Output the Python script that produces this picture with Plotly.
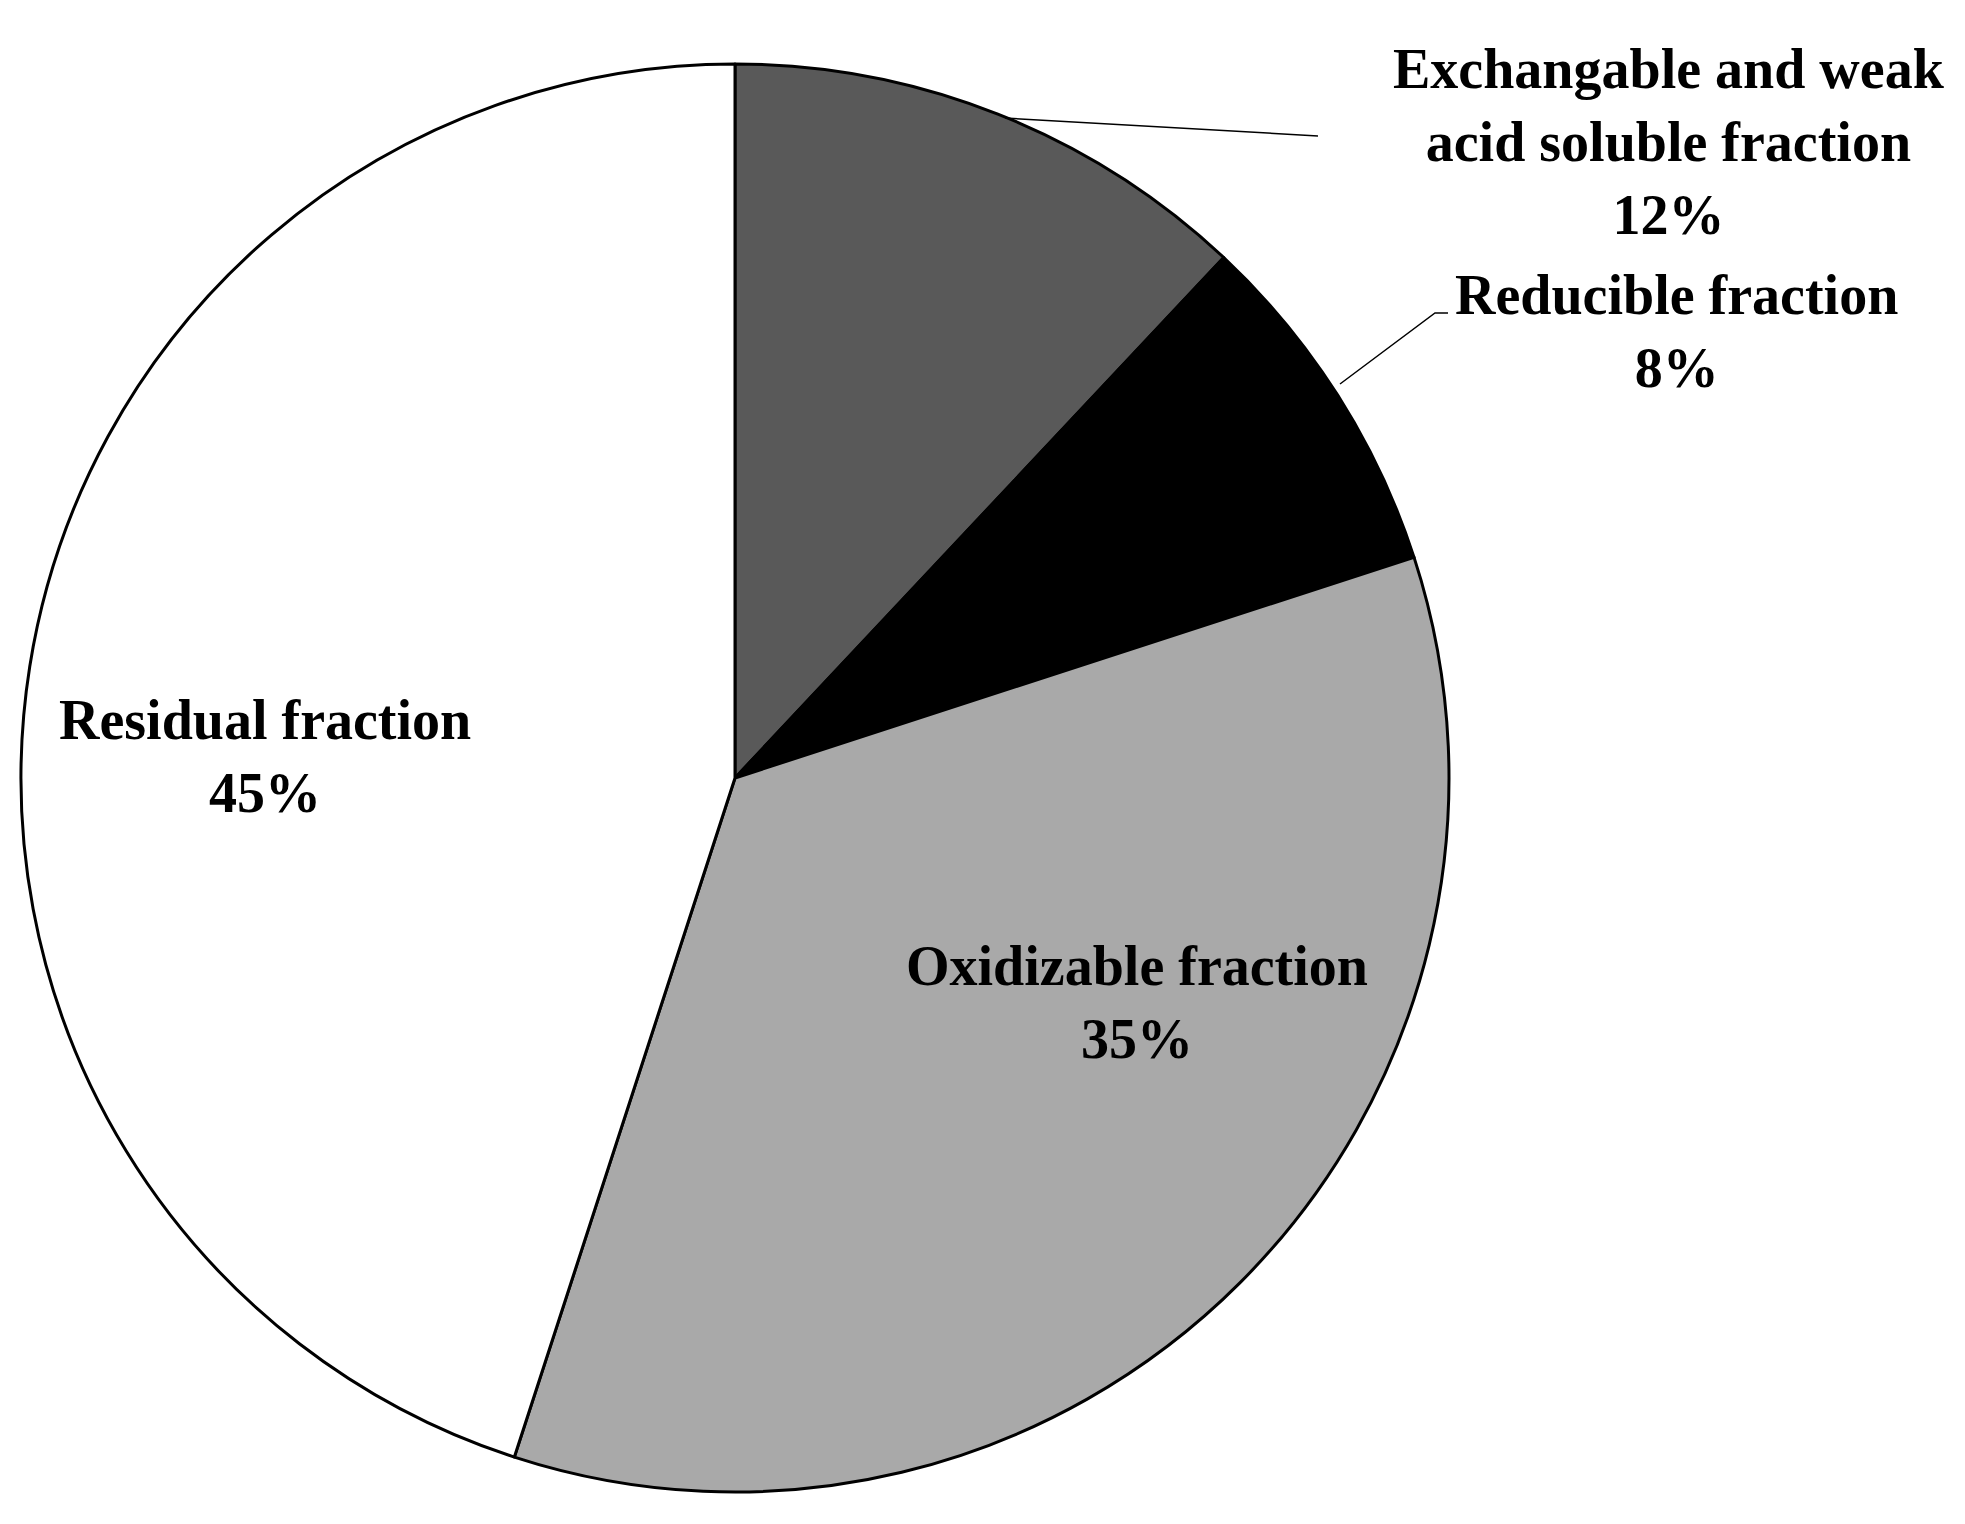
import plotly.graph_objects as go

labels = ["Exchangable and weak<br>acid soluble fraction", "Reducible fraction", "Oxidizable fraction", "Residual fraction"]
values = [12, 8, 35, 45]
colors = ["#595959", "#000000", "#a9a9a9", "#ffffff"]

W, H = 1965, 1524
def px(x): return x / W
def py(y): return 1 - y / H

fig = go.Figure(go.Pie(
    labels=labels, values=values, sort=False, direction="clockwise", rotation=0,
    marker=dict(colors=colors, line=dict(color="black", width=3)),
    textinfo="none", hoverinfo="label+percent", showlegend=False,
    domain=dict(x=[px(13), px(1441)], y=[py(1484), py(56)]),
))

font = dict(family="Liberation Serif", size=56, color="black")
label_pos = [(1661, 134), (1668, 323), (1129, 994), (257, 749)]
for lab, v, (x, y) in zip(labels, values, label_pos):
    fig.add_annotation(x=px(x), y=py(y), xref="paper", yref="paper", showarrow=False,
                       text=f"<b>{lab}<br>{v}%</b>", font=font, xanchor="center", yanchor="middle")

fig.add_shape(type="line", xref="paper", yref="paper", x0=px(997), y0=py(110), x1=px(1310), y1=py(128),
              line=dict(color="black", width=1.5))
fig.add_shape(type="path", xref="paper", yref="paper",
              path=f"M {px(1332)},{py(376)} L {px(1427)},{py(305)} L {px(1440)},{py(305)}",
              line=dict(color="black", width=1.5))

fig.update_layout(width=W, height=H, margin=dict(l=0, r=0, t=0, b=0),
                  paper_bgcolor="white", plot_bgcolor="white")
fig.write_html("out.html")
